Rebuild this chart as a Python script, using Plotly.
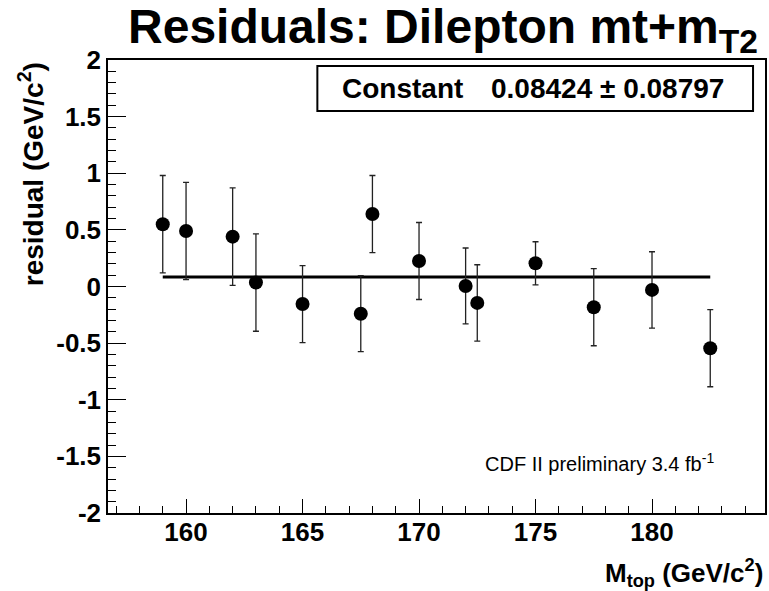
import plotly.graph_objects as go

# Residuals of the dilepton mt+mT2 top-mass fit, one point per template mass
m_top = [159.0, 160.0, 162.0, 163.0, 165.0, 167.5, 168.0, 170.0, 172.0, 172.5, 175.0, 177.5, 180.0, 182.5]
residual = [0.55, 0.49, 0.44, 0.035, -0.155, -0.24, 0.64, 0.225, 0.005, -0.145, 0.205, -0.183, -0.03, -0.545]
residual_err = [0.43, 0.43, 0.43, 0.43, 0.34, 0.335, 0.34, 0.34, 0.335, 0.337, 0.19, 0.34, 0.337, 0.34]

# Constant fit (pol0) over the full mass range
fit_range = [159.0, 182.5]
fit_const = 0.08424
fit_const_err = 0.08797

x_range = [156.65, 184.85]
y_range = [-2.0, 2.0]
x_ticks = [160, 165, 170, 175, 180]
y_ticks = [-2, -1.5, -1, -0.5, 0, 0.5, 1, 1.5, 2]
y_ticklabels = ["-2", "-1.5", "-1", "-0.5", "0", "0.5", "1", "1.5", "2"]

FONT = "Liberation Sans, Arial, Helvetica, sans-serif"

W, H = 769, 591
L, R, T, B = 108, 2, 60, 78
pw, ph = W - L - R, H - T - B


def px_x(p):
    return (p - L) / pw


def px_y(p):
    return (H - B - p) / ph


fig = go.Figure()

fig.add_trace(go.Scatter(
    x=fit_range, y=[fit_const, fit_const], mode="lines",
    line=dict(color="black", width=3), hoverinfo="skip", showlegend=False,
))

fig.add_trace(go.Scatter(
    x=m_top, y=residual, mode="markers",
    marker=dict(color="black", size=14, symbol="circle"),
    error_y=dict(type="data", array=residual_err, visible=True,
                 color="#222222", thickness=1.3, width=3),
    showlegend=False,
))

axis_common = dict(
    showline=True, linecolor="black", linewidth=1.5, mirror=True,
    showgrid=False, zeroline=False, ticks="inside", tickcolor="black",
    tickwidth=1, tickfont=dict(family=FONT, size=26, color="black", weight="bold"),
)

fig.update_xaxes(
    range=x_range, tickvals=x_ticks, ticklen=14, ticklabelstandoff=-5,
    minor=dict(dtick=1, ticklen=7, ticks="inside", tickcolor="black", tickwidth=1),
    **axis_common,
)
fig.update_yaxes(
    range=y_range, tickvals=y_ticks, ticktext=y_ticklabels, ticklen=18,
    minor=dict(dtick=0.1, ticklen=8, ticks="inside", tickcolor="black", tickwidth=1),
    **axis_common,
)

annotations = [
    # axis titles
    dict(text="residual (GeV/c<sup>2</sup>)", textangle=-90,
         xref="paper", yref="paper", x=px_x(31), y=1.0,
         xanchor="center", yanchor="top", showarrow=False,
         font=dict(family=FONT, size=28, color="black", weight="bold")),
    dict(text="M<sub>top</sub> (GeV/c<sup>2</sup>)",
         xref="paper", yref="paper", x=1.0, y=px_y(553),
         xanchor="right", yanchor="top", showarrow=False,
         font=dict(family=FONT, size=26, color="black", weight="bold")),
    # fit parameter box
    dict(text="Constant", xref="paper", yref="paper",
         x=px_x(341), y=px_y(88.5), xanchor="left", yanchor="middle", showarrow=False,
         font=dict(family=FONT, size=28, color="black", weight="bold")),
    dict(text=f"{fit_const:.5f} \u00b1 {fit_const_err:.5f}", xref="paper", yref="paper",
         x=px_x(728), y=px_y(88.5), xanchor="right", yanchor="middle", showarrow=False,
         font=dict(family=FONT, size=28, color="black", weight="bold")),
    # collaboration label
    dict(text="CDF II preliminary 3.4 fb<sup>-1</sup>", xref="paper", yref="paper",
         x=px_x(484), y=px_y(462), xanchor="left", yanchor="middle", showarrow=False,
         font=dict(family=FONT, size=20, color="black")),
]

fig.update_layout(
    width=W, height=H,
    margin=dict(l=L, r=R, t=T, b=B, pad=0),
    paper_bgcolor="white", plot_bgcolor="white",
    title=dict(text="Residuals: Dilepton mt+m<sub>T2</sub>",
               x=443 / W, xanchor="center", xref="container",
               y=1 - 9 / H, yanchor="top",
               font=dict(family=FONT, size=48, color="black", weight="bold")),
    annotations=annotations,
    shapes=[dict(type="rect", xref="paper", yref="paper",
                 x0=px_x(318), x1=px_x(755), y0=px_y(111), y1=px_y(66),
                 line=dict(color="black", width=2), fillcolor="white", layer="below")],
)

fig.write_html("out.html")
